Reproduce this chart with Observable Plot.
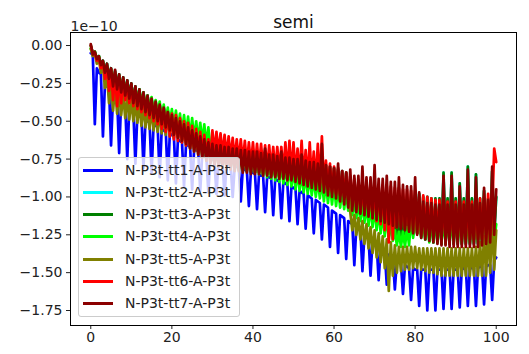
<!DOCTYPE html>
<html><head><meta charset="utf-8">
<script src="https://cdn.jsdelivr.net/npm/d3@7"></script>
<script src="https://cdn.jsdelivr.net/npm/@observablehq/plot@0.6"></script>
<style>
body{margin:0;background:#fff;font-family:"DejaVu Sans",sans-serif;}
#wrap{position:relative;width:529px;height:354px;}
#legend{position:absolute;left:78px;top:157px;width:162px;height:160px;box-sizing:border-box;border:1px solid #ccc;border-radius:3px;background:rgba(255,255,255,0.8);}
.row{position:absolute;left:0;height:20px;display:flex;align-items:center;font-size:14px;color:#222;white-space:nowrap;}
.sw{width:30px;height:3px;margin-left:4px;margin-right:12px;}
</style></head>
<body><div id="wrap"></div>
<script>
// values in units of 1e-10, sampled every 0.5 on x from 0 to 100
const names = ["N-P3t-tt1-A-P3t","N-P3t-tt2-A-P3t","N-P3t-tt3-A-P3t","N-P3t-tt4-A-P3t","N-P3t-tt5-A-P3t","N-P3t-tt6-A-P3t","N-P3t-tt7-A-P3t"];
const xTicks = [0, 20, 40, 60, 80, 100];
const yTicks = [0, -0.25, -0.5, -0.75, -1, -1.25, -1.5, -1.75];

const tt1 = [
-0.05,-0.06,-0.52,-0.15,-0.18,-0.19,-0.60,-0.25,-0.27,-0.28,-0.66,-0.33,-0.34,-0.35,-0.71,-0.37,-0.38,-0.39,-0.75,-0.41,
-0.42,-0.43,-0.78,-0.45,-0.46,-0.47,-0.81,-0.49,-0.50,-0.51,-0.84,-0.52,-0.53,-0.54,-0.87,-0.55,-0.56,-0.57,-0.89,-0.58,
-0.59,-0.60,-0.91,-0.62,-0.63,-0.64,-0.93,-0.65,-0.66,-0.67,-0.95,-0.68,-0.69,-0.70,-0.96,-0.71,-0.72,-0.73,-0.97,-0.74,
-0.75,-0.76,-0.98,-0.76,-0.77,-0.78,-0.99,-0.78,-0.79,-0.79,-1.00,-0.80,-0.80,-0.81,-1.03,-0.81,-0.82,-0.83,-1.06,-0.83,
-0.84,-0.85,-1.08,-0.85,-0.86,-0.86,-1.10,-0.87,-0.87,-0.88,-1.12,-0.88,-0.89,-0.90,-1.14,-0.90,-0.91,-0.92,-1.16,-0.93,
-0.94,-0.95,-1.18,-0.96,-0.97,-0.98,-1.21,-0.99,-1.00,-1.01,-1.24,-1.02,-1.03,-1.04,-1.28,-1.05,-1.06,-1.07,-1.33,-1.09,
-1.10,-1.11,-1.37,-1.12,-1.13,-1.14,-1.41,-1.16,-1.17,-1.18,-1.45,-1.20,-1.21,-1.22,-1.49,-1.25,-1.26,-1.27,-1.52,-1.29,
-1.30,-1.31,-1.55,-1.34,-1.35,-1.36,-1.58,-1.38,-1.39,-1.40,-1.61,-1.42,-1.43,-1.44,-1.64,-1.45,-1.46,-1.47,-1.68,-1.47,
-1.48,-1.48,-1.72,-1.48,-1.48,-1.48,-1.75,-1.48,-1.48,-1.48,-1.75,-1.48,-1.48,-1.48,-1.74,-1.48,-1.48,-1.48,-1.74,-1.48,
-1.48,-1.48,-1.73,-1.48,-1.47,-1.47,-1.72,-1.47,-1.47,-1.47,-1.72,-1.47,-1.46,-1.46,-1.71,-1.46,-1.45,-1.45,-1.68,-1.42,
-1.40];

const tt3 = [
0.00,-0.05,-0.04,-0.09,-0.07,-0.13,-0.10,-0.17,-0.12,-0.21,-0.15,-0.26,-0.17,-0.28,-0.19,-0.30,-0.21,-0.32,-0.23,-0.34,
-0.25,-0.37,-0.27,-0.39,-0.29,-0.41,-0.31,-0.43,-0.33,-0.45,-0.35,-0.47,-0.37,-0.49,-0.39,-0.51,-0.41,-0.53,-0.43,-0.55,
-0.45,-0.58,-0.47,-0.60,-0.49,-0.62,-0.51,-0.64,-0.53,-0.66,-0.55,-0.68,-0.57,-0.70,-0.59,-0.72,-0.61,-0.74,-0.62,-0.76,
-0.64,-0.78,-0.65,-0.79,-0.66,-0.80,-0.66,-0.81,-0.67,-0.81,-0.67,-0.82,-0.68,-0.82,-0.68,-0.83,-0.69,-0.83,-0.69,-0.84,
-0.70,-0.84,-0.70,-0.84,-0.71,-0.85,-0.71,-0.85,-0.72,-0.86,-0.72,-0.86,-0.73,-0.87,-0.73,-0.87,-0.74,-0.88,-0.74,-0.88,
-0.75,-0.89,-0.75,-0.90,-0.76,-0.91,-0.76,-0.92,-0.77,-0.93,-0.77,-0.94,-0.78,-0.95,-0.78,-0.96,-0.79,-0.97,-0.80,-0.98,
-0.81,-0.99,-0.82,-1.01,-0.83,-1.03,-0.84,-1.05,-0.90,-1.08,-0.92,-1.10,-0.93,-1.11,-0.94,-1.12,-0.95,-1.13,-0.96,-1.14,
-0.97,-1.16,-0.98,-1.18,-1.00,-1.22,-1.05,-1.26,-1.08,-1.27,-1.10,-1.28,-1.10,-1.28,-1.08,-1.27,-1.06,-1.26,-1.03,-1.25,
-0.99,-1.24,-0.98,-1.26,-1.00,-1.28,-1.00,-1.29,-1.01,-1.30,-1.01,-1.30,-1.01,-1.31,-0.84,-1.31,-1.01,-1.31,-0.84,-1.31,
-1.01,-1.31,-0.91,-1.31,-1.01,-1.31,-0.80,-1.31,-1.01,-1.31,-0.85,-1.31,-1.01,-1.30,-0.96,-1.29,-1.01,-1.28,-0.83,-1.25,
-1.00];

// tt2 is never visible in the picture: it lies under tt3
const tt2 = tt3;

const tt4 = [
-0.02,-0.06,-0.04,-0.09,-0.07,-0.13,-0.11,-0.17,-0.14,-0.21,-0.16,-0.24,-0.18,-0.27,-0.20,-0.29,-0.22,-0.31,-0.24,-0.33,
-0.26,-0.35,-0.28,-0.37,-0.29,-0.39,-0.31,-0.41,-0.33,-0.43,-0.34,-0.45,-0.36,-0.47,-0.37,-0.49,-0.39,-0.51,-0.41,-0.53,
-0.42,-0.55,-0.43,-0.56,-0.45,-0.58,-0.46,-0.59,-0.47,-0.61,-0.48,-0.62,-0.50,-0.63,-0.51,-0.64,-0.52,-0.66,-0.54,-0.68,
-0.62,-0.74,-0.63,-0.75,-0.64,-0.76,-0.65,-0.77,-0.66,-0.78,-0.67,-0.79,-0.68,-0.80,-0.69,-0.81,-0.70,-0.82,-0.71,-0.83,
-0.72,-0.84,-0.73,-0.85,-0.74,-0.86,-0.75,-0.87,-0.76,-0.88,-0.77,-0.89,-0.78,-0.90,-0.79,-0.91,-0.80,-0.92,-0.81,-0.93,
-0.82,-0.95,-0.83,-0.96,-0.84,-0.97,-0.85,-0.98,-0.86,-0.99,-0.87,-1.00,-0.88,-1.01,-0.89,-1.03,-0.90,-1.04,-0.91,-1.05,
-0.92,-1.06,-0.93,-1.07,-0.94,-1.08,-0.96,-1.09,-1.00,-1.12,-1.02,-1.14,-1.03,-1.16,-1.04,-1.17,-1.05,-1.19,-1.06,-1.20,
-1.07,-1.22,-1.08,-1.24,-1.10,-1.26,-1.12,-1.28,-1.16,-1.29,-1.22,-1.32,-1.23,-1.33,-1.23,-1.33,-1.20,-1.32,-1.14,-1.27,
-1.13,-1.24,-1.15,-1.27,-1.16,-1.28,-1.16,-1.30,-1.16,-1.30,-1.16,-1.30,-1.16,-1.30,-1.16,-1.30,-1.16,-1.30,-1.16,-1.30,
-1.16,-1.30,-1.16,-1.30,-1.16,-1.30,-1.16,-1.30,-1.16,-1.30,-1.16,-1.30,-1.16,-1.30,-1.12,-1.28,-1.10,-1.27,-1.15,-1.30,
-1.18];

const tt5 = [
-0.02,-0.07,-0.05,-0.12,-0.09,-0.18,-0.14,-0.28,-0.19,-0.38,-0.24,-0.43,-0.27,-0.45,-0.30,-0.46,-0.32,-0.48,-0.34,-0.49,
-0.35,-0.50,-0.37,-0.51,-0.38,-0.53,-0.40,-0.54,-0.41,-0.55,-0.42,-0.56,-0.43,-0.57,-0.44,-0.58,-0.45,-0.59,-0.46,-0.60,
-0.48,-0.61,-0.50,-0.62,-0.52,-0.64,-0.54,-0.66,-0.56,-0.68,-0.58,-0.70,-0.60,-0.72,-0.62,-0.74,-0.64,-0.76,-0.65,-0.77,
-0.66,-0.78,-0.67,-0.79,-0.67,-0.80,-0.68,-0.80,-0.69,-0.81,-0.69,-0.81,-0.70,-0.82,-0.70,-0.82,-0.71,-0.83,-0.71,-0.83,
-0.72,-0.84,-0.72,-0.84,-0.73,-0.85,-0.73,-0.85,-0.74,-0.86,-0.74,-0.86,-0.75,-0.87,-0.75,-0.87,-0.76,-0.88,-0.76,-0.88,
-0.77,-0.89,-0.78,-0.90,-0.78,-0.91,-0.79,-0.92,-0.80,-0.92,-0.80,-0.93,-0.81,-0.94,-0.82,-0.95,-0.83,-0.96,-0.84,-0.97,
-0.85,-0.98,-0.86,-0.99,-0.87,-1.00,-0.88,-1.01,-1.10,-1.22,-1.12,-1.25,-1.14,-1.28,-1.16,-1.31,-1.18,-1.34,-1.20,-1.37,
-1.22,-1.40,-1.24,-1.43,-1.26,-1.47,-1.28,-1.62,-1.30,-1.52,-1.32,-1.50,-1.33,-1.49,-1.33,-1.48,-1.33,-1.48,-1.33,-1.47,
-1.33,-1.47,-1.34,-1.48,-1.34,-1.49,-1.34,-1.50,-1.34,-1.50,-1.34,-1.51,-1.34,-1.52,-1.34,-1.52,-1.34,-1.52,-1.34,-1.52,
-1.34,-1.52,-1.34,-1.52,-1.34,-1.52,-1.34,-1.52,-1.34,-1.52,-1.33,-1.52,-1.30,-1.52,-1.26,-1.52,-1.20,-1.50,-1.15,-1.48,
-1.22];

const tt6 = [
0.00,-0.05,-0.05,-0.10,-0.08,-0.15,-0.11,-0.22,-0.14,-0.30,-0.16,-0.36,-0.18,-0.40,-0.20,-0.38,-0.22,-0.36,-0.24,-0.38,
-0.26,-0.40,-0.28,-0.42,-0.30,-0.44,-0.32,-0.46,-0.34,-0.48,-0.36,-0.50,-0.38,-0.52,-0.40,-0.55,-0.42,-0.57,-0.44,-0.60,
-0.45,-0.62,-0.46,-0.63,-0.48,-0.64,-0.50,-0.66,-0.51,-0.67,-0.53,-0.68,-0.55,-0.70,-0.57,-0.71,-0.59,-0.72,-0.62,-0.74,
-0.56,-0.70,-0.57,-0.71,-0.58,-0.72,-0.59,-0.73,-0.60,-0.74,-0.61,-0.75,-0.62,-0.76,-0.62,-0.77,-0.63,-0.78,-0.64,-0.79,
-0.64,-0.80,-0.65,-0.80,-0.65,-0.81,-0.66,-0.82,-0.66,-0.82,-0.67,-0.83,-0.67,-0.83,-0.67,-0.84,-0.64,-0.84,-0.63,-0.85,
-0.64,-0.85,-0.68,-0.86,-0.63,-0.87,-0.69,-0.88,-0.64,-0.89,-0.70,-0.90,-0.65,-0.91,-0.60,-0.92,-0.76,-0.94,-0.78,-0.96,
-0.80,-0.98,-0.81,-0.99,-0.83,-1.00,-0.84,-1.02,-0.86,-1.06,-0.88,-1.08,-0.89,-1.10,-0.90,-1.11,-0.90,-1.12,-0.91,-1.14,
-0.91,-1.16,-0.92,-1.18,-0.92,-1.22,-0.93,-1.30,-0.93,-1.28,-0.94,-1.20,-0.94,-1.20,-0.95,-1.21,-0.95,-1.22,-0.96,-1.23,
-0.96,-1.24,-1.00,-1.25,-0.99,-1.26,-1.00,-1.26,-1.01,-1.27,-1.02,-1.27,-1.02,-1.28,-1.02,-1.28,-1.03,-1.28,-1.03,-1.28,
-1.03,-1.28,-1.03,-1.28,-1.03,-1.28,-1.03,-1.28,-1.03,-1.28,-1.02,-1.28,-1.01,-1.28,-1.00,-1.27,-0.98,-1.25,-1.10,-0.68,
-0.77];

const tt7 = [
0.01,-0.06,-0.04,-0.09,-0.07,-0.13,-0.10,-0.18,-0.12,-0.22,-0.15,-0.27,-0.16,-0.29,-0.19,-0.31,-0.21,-0.33,-0.23,-0.35,
-0.25,-0.38,-0.27,-0.40,-0.29,-0.42,-0.31,-0.44,-0.33,-0.46,-0.35,-0.48,-0.37,-0.50,-0.39,-0.52,-0.41,-0.54,-0.44,-0.56,
-0.46,-0.59,-0.48,-0.61,-0.50,-0.63,-0.52,-0.65,-0.54,-0.68,-0.56,-0.70,-0.58,-0.72,-0.60,-0.74,-0.62,-0.76,-0.64,-0.78,
-0.65,-0.80,-0.66,-0.80,-0.66,-0.81,-0.67,-0.82,-0.67,-0.82,-0.68,-0.83,-0.68,-0.83,-0.69,-0.84,-0.69,-0.84,-0.70,-0.85,
-0.70,-0.85,-0.70,-0.85,-0.71,-0.86,-0.68,-0.86,-0.72,-0.87,-0.72,-0.87,-0.73,-0.88,-0.70,-0.88,-0.74,-0.89,-0.74,-0.89,
-0.75,-0.90,-0.75,-0.91,-0.72,-0.92,-0.76,-0.93,-0.77,-0.94,-0.77,-0.95,-0.78,-0.96,-0.65,-0.97,-0.79,-0.99,-0.80,-1.00,
-0.81,-1.01,-0.78,-1.03,-0.83,-1.05,-0.84,-1.07,-0.82,-1.09,-0.86,-1.10,-0.86,-1.11,-0.80,-1.12,-0.87,-1.13,-0.87,-1.14,
-0.79,-1.15,-0.88,-1.16,-0.88,-1.17,-0.86,-1.18,-0.90,-1.19,-0.90,-1.20,-0.87,-1.21,-0.92,-1.22,-0.93,-1.23,-0.93,-1.24,
-0.87,-1.25,-0.97,-1.27,-1.03,-1.28,-1.04,-1.29,-1.04,-1.30,-1.05,-1.31,-1.05,-1.32,-0.86,-1.32,-1.05,-1.33,-0.86,-1.33,
-1.05,-1.33,-0.93,-1.33,-1.05,-1.33,-0.82,-1.33,-1.05,-1.33,-0.87,-1.33,-1.04,-1.32,-0.94,-1.31,-1.02,-1.30,-0.80,-1.25,
-0.95];

const seriesValues = [tt1, tt2, tt3, tt4, tt5, tt6, tt7];
const colors = ["#0000ff", "#00ffff", "#008000", "#00ff00", "#808000", "#ff0000", "#8b0000"];

const xs = d3.range(tt1.length).map(i => i * 0.5);
const fmt = d => (d < 0 ? "\u2212" : "") + Math.abs(d).toFixed(2);

const lines = seriesValues.map((vals, s) =>
  Plot.line(vals, {x: (d, i) => xs[i], y: d => d, stroke: colors[s], strokeWidth: 2.7})
);

const chart = Plot.plot({
  width: 529, height: 354,
  marginLeft: 70, marginRight: 13, marginTop: 32, marginBottom: 29,
  style: {fontFamily: "'DejaVu Sans', sans-serif", fontSize: "14px", color: "#222", background: "white", overflow: "visible"},
  x: {domain: [-5, 105], ticks: xTicks, tickSize: 4, tickPadding: 3, label: null, tickFormat: d => String(d)},
  y: {domain: [-1.849, 0.086], ticks: yTicks, tickSize: 4, tickPadding: 4, label: null, tickFormat: fmt},
  marks: [
    ...lines,
    Plot.frame({stroke: "#000", strokeWidth: 1}),
    Plot.text(["semi"], {text: d => d, frameAnchor: "top", dy: -17, fontSize: 17, fill: "#111"}),
    Plot.text(["1e\u221210"], {text: d => d, frameAnchor: "top-left", textAnchor: "start", dy: -11, fontSize: 14, fill: "#222"})
  ]
});

const wrap = document.getElementById("wrap");
wrap.appendChild(chart);

const legend = document.createElement("div");
legend.id = "legend";
const rowTops = [2, 24, 46, 68, 91, 113, 135];
names.forEach((n, i) => {
  const row = document.createElement("div");
  row.className = "row";
  row.style.top = rowTops[i] + "px";
  const sw = document.createElement("span");
  sw.className = "sw";
  sw.style.background = colors[i];
  const tx = document.createElement("span");
  tx.textContent = n;
  row.appendChild(sw);
  row.appendChild(tx);
  legend.appendChild(row);
});
wrap.appendChild(legend);
</script>
</body></html>
